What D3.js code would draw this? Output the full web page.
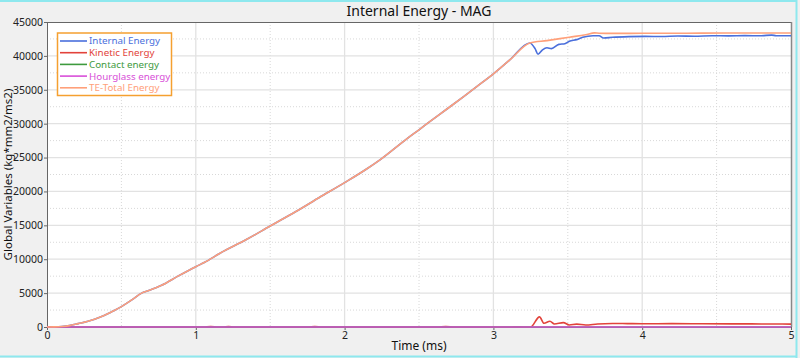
<!DOCTYPE html>
<html><head><meta charset="utf-8">
<script src="https://cdn.jsdelivr.net/npm/d3@7"></script>
<style>html,body{margin:0;padding:0;background:#f0f0f0;}svg{display:block;font-family:"Noto Sans","Open Sans",sans-serif;}</style>
</head><body><svg id="c" width="800" height="358"></svg>
<script>
// ---- data ----
const titleText = "Internal Energy - MAG";
const xLabel = "Time (ms)";
const yLabel = "Global Variables (kg*mm2/ms2)";
const xTicks = [0, 1, 2, 3, 4, 5];
const yTicks = [0, 5000, 10000, 15000, 20000, 25000, 30000, 35000, 40000, 45000];
const seriesNames = ["Internal Energy", "Kinetic Energy", "Contact energy", "Hourglass energy", "TE-Total Energy"];
const seriesColors = ["#4a6fdc", "#e2433b", "#3e9a3e", "#d84fd8", "#ffa07a"];

// shared loading ramp (internal == total until ~3.25 ms)
const rampT = [0, 0.05, 0.1, 0.15, 0.21, 0.27, 0.32, 0.38, 0.435, 0.5, 0.57, 0.636, 0.68, 0.77, 0.88, 1.0, 1.06, 1.16, 1.34, 1.5, 1.67, 1.83, 2.0, 2.14, 2.24, 2.42, 2.5, 2.57, 2.69, 2.8, 2.89, 3.0, 3.11, 3.245];
const rampE = [0, 20, 80, 200, 500, 800, 1150, 1650, 2250, 3000, 4000, 5000, 5350, 6150, 7500, 8900, 9550, 10850, 12900, 14900, 17000, 19100, 21300, 23200, 24700, 27800, 29100, 30250, 32200, 34000, 35500, 37350, 39400, 41900];

const internalTailT = [3.28, 3.30, 3.33, 3.36, 3.39, 3.44, 3.48, 3.51, 3.56, 3.60, 3.67, 3.71, 3.74, 3.80, 3.91, 4.02, 4.13, 4.24, 4.35, 4.47, 4.58, 4.69, 4.80, 4.87, 4.90, 5.0];
const internalTailE = [41070, 40250, 40900, 41200, 41070, 41700, 41800, 42160, 42400, 42740, 42980, 42980, 42640, 42740, 42840, 42880, 42860, 42930, 42900, 42980, 42950, 42990, 42970, 43070, 42980, 42980];

const totalTailT = [3.36, 3.51, 3.62, 3.68, 3.71, 3.8, 4.0, 4.2, 4.4, 4.6, 4.8, 5.0];
const totalTailE = [42250, 42760, 43120, 43400, 43350, 43320, 43330, 43340, 43360, 43370, 43380, 43380];

const kineticT = [0, 1.05, 1.1, 1.15, 1.18, 1.22, 1.26, 1.75, 1.8, 1.85, 2.62, 2.68, 2.74, 3.12, 3.16, 3.2, 3.25, 3.31, 3.34, 3.38, 3.41, 3.47, 3.51, 3.56, 3.62, 3.7, 3.8, 3.9, 4.0, 4.2, 4.4, 4.6, 4.8, 5.0];
const kineticE = [0, 0, 60, 0, 0, 60, 0, 0, 50, 0, 0, 60, 0, 0, 40, 0, 0, 1500, 550, 850, 450, 650, 300, 420, 300, 450, 520, 500, 480, 500, 480, 460, 450, 430];

const contactT = [0, 5];
const contactE = [0, 0];
const hourglassT = [0, 5];
const hourglassE = [0, 0];

// ---- build ----
const zip = (ts, es) => ts.map((t, i) => [t, es[i]]);
const series = [
  zip(rampT.concat(internalTailT), rampE.concat(internalTailE)),
  zip(kineticT, kineticE),
  zip(contactT, contactE),
  zip(hourglassT, hourglassE),
  zip(rampT.concat(totalTailT), rampE.concat(totalTailE))
];

const L = 47, R = 791, T = 22, B = 327;
const svg = d3.select("#c");
const x = d3.scaleLinear().domain([0, 5]).range([L, R]);
const y = d3.scaleLinear().domain([0, 45000]).range([B, T]);

// outer frame (cyan window edges)
svg.append("rect").attr("x", 0).attr("y", 0).attr("width", 800).attr("height", 358).attr("fill", "#f0f0f0");
svg.append("line").attr("x1", 0).attr("x2", 797).attr("y1", 1).attr("y2", 1).attr("stroke", "#8ee8ee").attr("stroke-width", 2);
svg.append("line").attr("x1", 0).attr("x2", 797).attr("y1", 356.5).attr("y2", 356.5).attr("stroke", "#8ee8ee").attr("stroke-width", 2);
svg.append("line").attr("x1", 796.5).attr("x2", 796.5).attr("y1", 0).attr("y2", 358).attr("stroke", "#8ee8ee").attr("stroke-width", 2);

// plot background
svg.append("rect").attr("x", L).attr("y", T).attr("width", R - L).attr("height", B - T).attr("fill", "#ffffff");

// grid
const g = svg.append("g");
const minorX = d3.range(0.5, 5, 1), minorY = d3.range(2500, 45000, 5000);
g.selectAll(".mx").data(minorX).join("line").attr("x1", d => x(d)).attr("x2", d => x(d)).attr("y1", T).attr("y2", B)
  .attr("stroke", "#d8d8d8").attr("stroke-dasharray", "1,2");
g.selectAll(".my").data(minorY).join("line").attr("y1", d => y(d)).attr("y2", d => y(d)).attr("x1", L).attr("x2", R)
  .attr("stroke", "#d8d8d8").attr("stroke-dasharray", "1,2");
g.selectAll(".Mx").data(xTicks.slice(1, -1)).join("line").attr("x1", d => x(d)).attr("x2", d => x(d)).attr("y1", T).attr("y2", B)
  .attr("stroke", "#e2e2e2").attr("stroke-width", 1.3);
g.selectAll(".My").data(yTicks.slice(1, -1)).join("line").attr("y1", d => y(d)).attr("y2", d => y(d)).attr("x1", L).attr("x2", R)
  .attr("stroke", "#e2e2e2").attr("stroke-width", 1.3);

// axes
const xAxis = d3.axisBottom(x).tickValues(xTicks).tickFormat(d3.format("d")).tickSize(3).tickSizeOuter(0);
const yAxis = d3.axisLeft(y).tickValues(yTicks).tickFormat(d3.format("d")).tickSize(3).tickSizeOuter(0);
const gx = svg.append("g").attr("transform", `translate(0,${B})`).call(xAxis);
const gy = svg.append("g").attr("transform", `translate(${L},0)`).call(yAxis);
[gx, gy].forEach(a => {
  a.selectAll("path").attr("stroke", "#666");
  a.selectAll("line").attr("stroke", "#666");
  a.selectAll("text").attr("fill", "#222").style("font-size", "10.5px").style("font-family", "'Noto Sans','Open Sans',sans-serif");
});
gx.selectAll("text").attr("dy", "0.6em");
gy.selectAll("text").attr("x", -4);
// top & right border
svg.append("line").attr("x1", L).attr("x2", R).attr("y1", T + 0.5).attr("y2", T + 0.5).attr("stroke", "#666");
svg.append("line").attr("x1", R + 0.5).attr("x2", R + 0.5).attr("y1", T).attr("y2", B).attr("stroke", "#888").attr("stroke-width", 1.5);

// lines
const line = d3.line().x(d => x(d[0])).y(d => y(d[1])).curve(d3.curveMonotoneX);
svg.append("g").selectAll("path").data(series).join("path")
  .attr("d", line).attr("fill", "none")
  .attr("stroke", (d, i) => seriesColors[i]).attr("stroke-width", 1.6).attr("stroke-linejoin", "round");

// title & labels
svg.append("text").attr("x", (L + R) / 2).attr("y", 16).attr("text-anchor", "middle")
  .style("font-size", "14px").attr("fill", "#111").text(titleText);
svg.append("text").attr("x", (L + R) / 2).attr("y", 350).attr("text-anchor", "middle")
  .style("font-size", "12px").attr("fill", "#111").text(xLabel);
svg.append("text").attr("transform", `translate(12,${(T + B) / 2}) rotate(-90)`).attr("text-anchor", "middle")
  .style("font-size", "11.5px").attr("fill", "#111").text(yLabel);

// legend
const lg = svg.append("g");
lg.append("rect").attr("x", 57.5).attr("y", 33).attr("width", 114).attr("height", 62.5)
  .attr("fill", "#ffffff").attr("stroke", "#f5a030").attr("stroke-width", 1.5);
const rowY = i => 41 + i * 11.7;
seriesNames.forEach((n, i) => {
  lg.append("line").attr("x1", 60).attr("x2", 87).attr("y1", rowY(i)).attr("y2", rowY(i))
    .attr("stroke", seriesColors[i]).attr("stroke-width", 1.6);
  lg.append("text").attr("x", 89).attr("y", rowY(i)).attr("dy", "0.35em")
    .style("font-size", "9.8px").attr("fill", seriesColors[i]).text(n);
});
</script></body></html>
